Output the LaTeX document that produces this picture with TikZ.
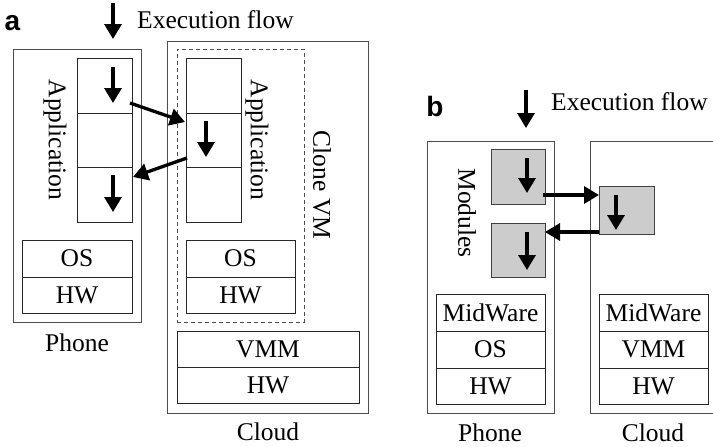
\documentclass[tikz,border=0pt]{standalone}
\usepackage{fontspec}
\setmainfont{Liberation Serif}
\newfontfamily\labelfont{Liberation Sans}
\usetikzlibrary{arrows.meta}
\begin{document}
\begin{tikzpicture}[x=1pt,y=1pt,
  every node/.style={font=\fontsize{25.5}{30}\selectfont},
  outerbox/.style={draw=black!70, line width=0.9pt, inner sep=0pt, outer sep=0pt},
  dashbox/.style={draw=black!70, line width=0.9pt, dashed, dash pattern=on 4pt off 3pt, inner sep=0pt, outer sep=0pt},
  cell/.style={draw=black!85, line width=0.9pt, inner sep=0pt, outer sep=0pt},
  module/.style={draw=black!75, fill=black!20, line width=0.9pt, inner sep=0pt, outer sep=0pt},
  flow/.style={line width=3.3pt, -{Triangle[length=15pt,width=17pt]}},
  panel/.style={font=\labelfont\bfseries\fontsize{28}{30}\selectfont},
  vlabel/.style={rotate=-90},
  legend/.style={anchor=base west, inner sep=0pt}
]
\useasboundingbox (0,0) rectangle (713,-447);

% ---------------- panel a ----------------
\node[panel] (lblA) at (12.5,-23) {a};
\coordinate (flowA0) at (113,-3);
\coordinate (flowA1) at (113,-39);
\draw[flow] (flowA0) -- (flowA1);
\node[legend] (flowAtxt) at (137,-28) {Execution flow};

% phone
\node[outerbox, minimum width=128pt, minimum height=273pt] (phoneA) at (77,-185.5) {};
\node[cell, minimum width=55pt, minimum height=55pt] (a1) at (104.5,-85.5) {};
\node[cell, minimum width=55pt, minimum height=54pt] (a2) at (104.5,-140) {};
\node[cell, minimum width=55pt, minimum height=55pt] (a3) at (104.5,-194.5) {};
\node[vlabel] (appA) at (55,-140) {Application};
\node[cell, minimum width=110pt, minimum height=37pt] (osA) at (77,-258.5) {OS};
\node[cell, minimum width=110pt, minimum height=36pt] (hwA) at (77,-295) {HW};
\node (phoneAtxt) at (77,-343) {Phone};

% cloud
\node[outerbox, minimum width=201pt, minimum height=372pt] (cloudA) at (267.5,-227) {};
\node[dashbox, minimum width=127pt, minimum height=273pt] (clone) at (240.5,-185.5) {};
\node[cell, minimum width=55pt, minimum height=55pt] (c1) at (213.5,-85.5) {};
\node[cell, minimum width=55pt, minimum height=54pt] (c2) at (213.5,-140) {};
\node[cell, minimum width=55pt, minimum height=55pt] (c3) at (213.5,-194.5) {};
\node[vlabel] (appC) at (257,-140) {Application};
\node[vlabel] (cloneTxt) at (322,-185) {Clone VM};
\node[cell, minimum width=109pt, minimum height=37pt] (osC) at (240.5,-258.5) {OS};
\node[cell, minimum width=109pt, minimum height=36pt] (hwC) at (240.5,-295) {HW};
\node[cell, minimum width=182pt, minimum height=36pt] (vmmA) at (268,-349) {VMM};
\node[cell, minimum width=182pt, minimum height=36pt] (hwCl) at (268,-385) {HW};
\node (cloudAtxt) at (268,-432) {Cloud};

% execution inside the application cells
\draw[flow] ([shift={(8.5pt,-9pt)}]a1.north) -- ([shift={(8.5pt,10pt)}]a1.south);
\draw[flow] ([shift={(8.5pt,-8pt)}]a3.north) -- ([shift={(8.5pt,10pt)}]a3.south);
\draw[flow] ([shift={(-7.5pt,-8pt)}]c2.north) -- ([shift={(-7.5pt,10pt)}]c2.south);
% offloading to the clone and back
\draw[flow] ([shift={(-2pt,10pt)}]a1.south east) -- ([shift={(-1pt,-9pt)}]c2.north west);
\draw[flow] ([shift={(1pt,9pt)}]c2.south west) -- ([shift={(1pt,-10pt)}]a3.north east);

% ---------------- panel b ----------------
\node[panel] (lblB) at (435,-106) {b};
\coordinate (flowB0) at (526,-90);
\coordinate (flowB1) at (526,-128);
\draw[flow] (flowB0) -- (flowB1);
\node[legend] (flowBtxt) at (551,-110) {Execution flow};

% phone
\node[outerbox, minimum width=127pt, minimum height=272pt] (phoneB) at (490.5,-277) {};
\node[module, minimum width=54pt, minimum height=55pt] (m1) at (518,-176.5) {};
\node[module, minimum width=54pt, minimum height=54pt] (m2) at (518,-250) {};
\node[vlabel] (modTxt) at (467,-213) {Modules};
\node[cell, minimum width=109pt, minimum height=37pt] (mwP) at (490.5,-312.5) {MidWare};
\node[cell, minimum width=109pt, minimum height=37pt] (osP) at (490.5,-349.5) {OS};
\node[cell, minimum width=109pt, minimum height=36pt] (hwP) at (490.5,-386) {HW};
\node (phoneBtxt) at (490,-433) {Phone};

% cloud (continues past the right edge)
\coordinate (cbTR) at (714,-141);
\coordinate (cbTL) at (590,-141);
\coordinate (cbBL) at (590,-413);
\coordinate (cbBR) at (714,-413);
\draw[draw=black!70, line width=0.9pt] (cbTR) -- (cbTL) -- (cbBL) -- (cbBR);
\node[module, minimum width=55pt, minimum height=48pt] (cg) at (626.5,-210) {};
\node[cell, minimum width=109pt, minimum height=37pt] (mwC) at (653.5,-312.5) {MidWare};
\node[cell, minimum width=109pt, minimum height=37pt] (vmmB) at (653.5,-349.5) {VMM};
\node[cell, minimum width=109pt, minimum height=36pt] (hwB) at (653.5,-386) {HW};
\node (cloudBtxt) at (653,-433) {Cloud};

% execution inside the modules
\draw[flow] ([shift={(9pt,-9pt)}]m1.north) -- ([shift={(9pt,11pt)}]m1.south);
\draw[flow] ([shift={(9pt,-9pt)}]m2.north) -- ([shift={(9pt,7pt)}]m2.south);
\draw[flow] ([shift={(-10.5pt,-9pt)}]cg.north) -- ([shift={(-10.5pt,4pt)}]cg.south);
% module offloaded to the cloud and back
\coordinate (t1) at ([shift={(-2pt,-18.5pt)}]m1.east);
\draw[flow] (t1) -- (t1 -| cg.west);
\coordinate (t2) at ([yshift=-22pt]cg.west);
\draw[flow] (t2) -- (t2 -| m2.east);
\end{tikzpicture}
\end{document}
